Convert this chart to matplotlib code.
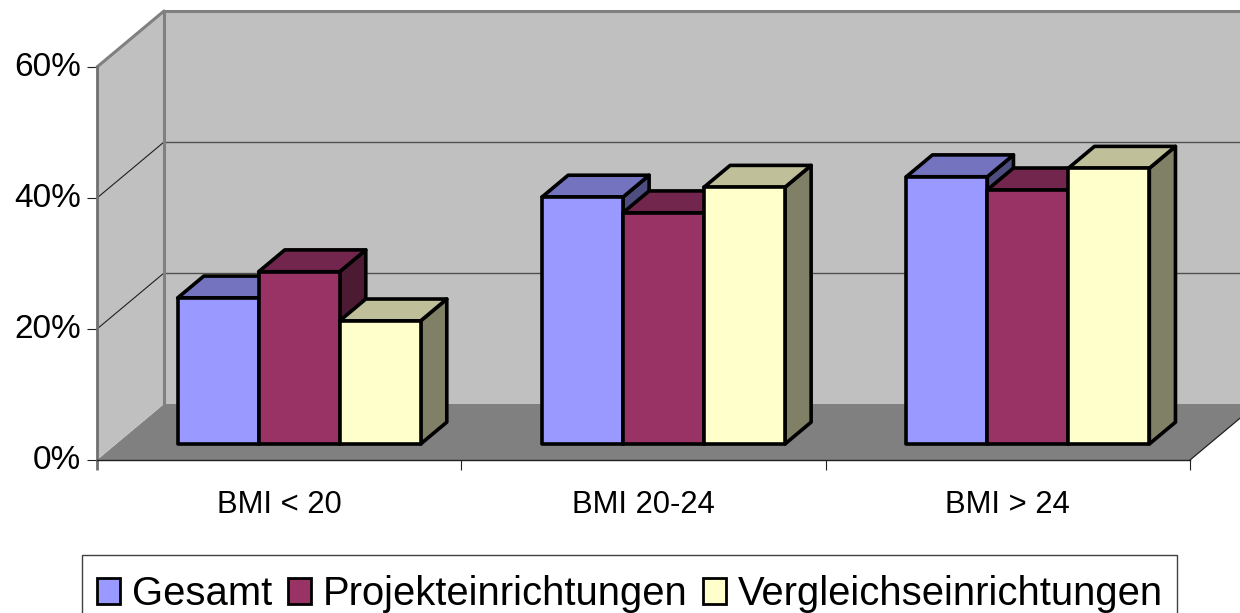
import matplotlib
matplotlib.use("Agg")
import matplotlib.pyplot as plt
from matplotlib.patches import Polygon, Patch, Rectangle
from matplotlib.transforms import ScaledTranslation

plt.rcParams['font.family'] = ['Liberation Sans', 'DejaVu Sans']

categories = ["BMI < 20", "BMI 20-24", "BMI > 24"]
series_names = ["Gesamt", "Projekteinrichtungen", "Vergleichseinrichtungen"]
gesamt = [22.3, 37.7, 40.8]
projekt = [26.3, 35.3, 38.8]
vergleich = [18.8, 39.2, 42.1]
series_values = [gesamt, projekt, vergleich]
front_colors = ["#9999FF", "#993366", "#FFFFCC"]
top_colors = ["#7373BF", "#73264D", "#BFBF99"]
side_colors = ["#4D4D80", "#4D1A33", "#808066"]
y_ticks = [0, 20, 40, 60]

W, H = 1240, 613
fig = plt.figure(figsize=(W / 100, H / 100), dpi=100, facecolor="white")
ax = fig.add_axes([97 / W, (H - 460) / H, (1190 - 97) / W, (460 - 67) / H])
ax.set_xlim(0, 3)
ax.set_ylim(0, 60)
ax.patch.set_visible(False)

# oblique depth vector in data units
DX = 67 / (1093 / 3)
DY = 56 / (393 / 60)


def proj(x, v, d):
    return (x + d * DX, v + d * DY)


def face(points, **kw):
    ax.add_patch(Polygon(points, closed=True, clip_on=False, **kw))


# walls and floor
face([proj(0, 0, 0), proj(3, 0, 0), proj(3, 0, 1), proj(0, 0, 1)],
     facecolor="#808080", edgecolor="none", zorder=1)
face([proj(0, 0, 1), proj(3, 0, 1), proj(3, 60, 1), proj(0, 60, 1)],
     facecolor="#C0C0C0", edgecolor="none", zorder=1)
face([proj(0, 0, 0), proj(0, 0, 1), proj(0, 60, 1), proj(0, 60, 0)],
     facecolor="#C0C0C0", edgecolor="none", zorder=1)

# gridlines
for t in y_ticks[1:3]:
    ax.plot(*zip(proj(0, t, 0), proj(0, t, 1)), color="#202020", lw=0.8, clip_on=False, zorder=2)
    ax.plot(*zip(proj(0, t, 1), proj(3, t, 1)), color="#505050", lw=1.0, clip_on=False, zorder=2)

# wall borders
for a, b in [(proj(0, 0, 1), proj(0, 60, 1)), (proj(0, 60, 0), proj(0, 60, 1)),
             (proj(0, 60, 1), proj(3, 60, 1))]:
    ax.plot(*zip(a, b), color="#808080", lw=2.2, clip_on=False, zorder=2, solid_capstyle="round")
ax.plot(*zip(proj(3, 0, 0), proj(3, 0, 1)), color="#202020", lw=0.9, clip_on=False, zorder=2)

# bars
BAR_W = 81 / (1093 / 3)
OFFSET = 61.5 / (1093 / 3)
D0, D1 = 0.286, 0.676
z = 3
for c in range(len(categories)):
    for s, vals in enumerate(series_values):
        x0 = c + OFFSET + s * BAR_W
        x1 = x0 + BAR_W
        v = vals[c]
        style = dict(edgecolor="black", linewidth=2.6, joinstyle="round")
        face([proj(x1, 0, D0), proj(x1, 0, D1), proj(x1, v, D1), proj(x1, v, D0)],
             facecolor=side_colors[s], zorder=z, **style)
        face([proj(x0, v, D0), proj(x1, v, D0), proj(x1, v, D1), proj(x0, v, D1)],
             facecolor=top_colors[s], zorder=z, **style)
        face([proj(x0, 0, D0), proj(x1, 0, D0), proj(x1, v, D0), proj(x0, v, D0)],
             facecolor=front_colors[s], zorder=z, **style)
        z += 1

# axes
for side in ("top", "right"):
    ax.spines[side].set_visible(False)
ax.spines["left"].set_color("#707070")
ax.spines["left"].set_linewidth(2.0)
ax.spines["bottom"].set_color("#202020")
ax.spines["bottom"].set_linewidth(1.0)
for sp in ax.spines.values():
    sp.set_zorder(2.5)

ax.set_yticks(y_ticks)
ax.set_yticklabels([f"{t}%" for t in y_ticks])
ax.tick_params(axis="y", length=7.2, width=0.8, color="#202020", pad=4.4, labelsize=24)
shift = ScaledTranslation(0, 2.2 / 72, fig.dpi_scale_trans)
for lab in ax.get_yticklabels():
    lab.set_transform(lab.get_transform() + shift)
ax.set_xticks(range(4))
ax.set_xticklabels([""] * 4)
ax.tick_params(axis="x", which="major", length=7.2, width=0.8, color="#202020")
ax.set_xticks([i + 0.5 for i in range(3)], minor=True)
ax.set_xticklabels(categories, minor=True)
ax.tick_params(axis="x", which="minor", length=0, pad=21.5, labelsize=22.3)
tick0 = ax.get_xticklines()[0]
tick0.set_markeredgecolor("#707070")
tick0.set_markeredgewidth(2.0)

# legend
handles = [Patch(facecolor=fc, edgecolor="black", linewidth=2.0) for fc in front_colors]
px_x = lambda p: (p - 97) / (1190 - 97)
px_y = lambda p: (460 - p) / (460 - 67)
ax.add_patch(Rectangle((px_x(82), px_y(625)), px_x(1177) - px_x(82), px_y(555) - px_y(625),
                       transform=ax.transAxes, clip_on=False, facecolor="white",
                       edgecolor="#404040", linewidth=1.0, zorder=19))
leg = ax.legend(handles, series_names, ncol=3, loc="upper left",
                bbox_to_anchor=(px_x(82), px_y(560)),
                bbox_transform=ax.transAxes, borderaxespad=0, fontsize=28.8,
                handlelength=0.57, handleheight=0.62, handletextpad=0.3,
                columnspacing=0.4, borderpad=0.37, frameon=False)
leg.set_zorder(20)

fig.savefig("out.png", dpi=100)
